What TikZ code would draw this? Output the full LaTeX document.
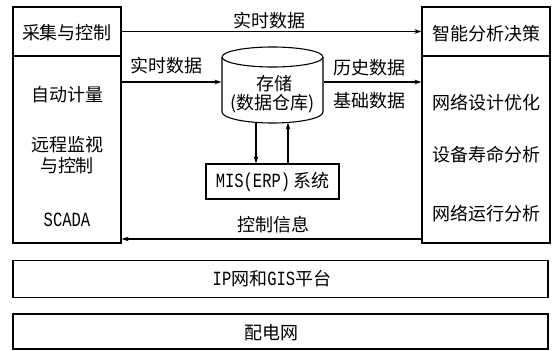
\documentclass[tikz,border=0pt]{standalone}
\usepackage{graphicx}
\usepackage{fontspec}
\setmainfont{Noto Sans CJK SC}
\newfontfamily\latmono{Liberation Mono}
\newcommand\lat[1]{\scalebox{1}[1.3]{\latmono\fontsize{15.5}{18}\selectfont #1}}
\usetikzlibrary{arrows.meta}
\begin{document}
\begin{tikzpicture}[x=1pt,y=-1pt,line width=1.1pt,
  box/.style={draw,rectangle,inner sep=0pt},
  txt/.style={inner sep=0pt,font=\fontsize{18}{20}\selectfont},
  arr/.style={-{Stealth[length=7pt,width=4.5pt]}}]
\useasboundingbox (0,0) rectangle (558,351);
% frames
\node[box,minimum width=108pt,minimum height=49pt]  (lt) at (67,31.5) {};
\node[box,minimum width=108pt,minimum height=187pt] (lb) at (67,149.5) {};
\node[box,minimum width=128pt,minimum height=49pt]  (rt) at (486,31.5) {};
\node[box,minimum width=128pt,minimum height=187pt] (rb) at (486,149.5) {};
\node[box,minimum width=535pt,minimum height=37pt]  (ip) at (280.5,279) {};
\node[box,minimum width=535pt,minimum height=35pt]  (pd) at (280.5,331.5) {};
\node[box,minimum width=133pt,minimum height=35pt]  (mis) at (272.5,181.5) {};
% cylinder
\node[inner sep=0pt,minimum width=101pt,minimum height=77pt] (db) at (272.5,84.5) {};
\draw (272.5,57) ellipse[x radius=50.5,y radius=10];
\draw (222,57) -- (222,112) arc[start angle=180,end angle=0,x radius=50.5,y radius=11] -- (323,57);
% texts
\node[txt] (t1) at (67,33) {采集与控制};
\node[txt] (t2) at (67,94.5) {自动计量};
\node[txt] (t3) at (67,144.5) {远程监视};
\node[txt] (t4) at (67,166) {与控制};
\node[txt] (t5) at (67,220) {\lat{SCADA}};
\node[txt] (t6) at (486,34) {智能分析决策};
\node[txt] (t7) at (486,102.5) {网络设计优化};
\node[txt] (t8) at (486,155) {设备寿命分析};
\node[txt] (t9) at (486,213.5) {网络运行分析};
\node[txt] (l1) at (269,20.5) {实时数据};
\node[txt] (l2) at (166.5,65.5) {实时数据};
\node[txt] (l3) at (369,68) {历史数据};
\node[txt] (l4) at (369,100.5) {基础数据};
\node[txt] (l5) at (273.5,224.5) {控制信息};
\node[txt] (d1) at (274,83.5) {存储};
\node[txt] (d2) at (272.5,104) {(数据仓库)};
\node[txt] (m1) at (mis) {\lat{MIS(ERP)}\,系统};
\node[txt] (p1) at (272,279) {\lat{IP}网和\lat{GIS}平台};
\node[txt] (p2) at (271.5,333) {配电网};
% connectors
\coordinate (rowA) at (0,82);
\coordinate (rowB) at (0,239);
\coordinate (dbd) at (256,122.4);
\coordinate (dbu) at (288,122.5);
\draw[arr] (lt.east) -- (rt.west);
\draw[arr] (lb.east |- rowA) -- (db.west |- rowA);
\draw[arr] (db.east |- rowA) -- (rb.west |- rowA);
\draw[arr] (dbd) -- (dbd |- mis.north);
\draw[arr] (dbu |- mis.north) -- (dbu);
\draw[arr] (rb.west |- rowB) -- (lb.east |- rowB);
\end{tikzpicture}
\end{document}
